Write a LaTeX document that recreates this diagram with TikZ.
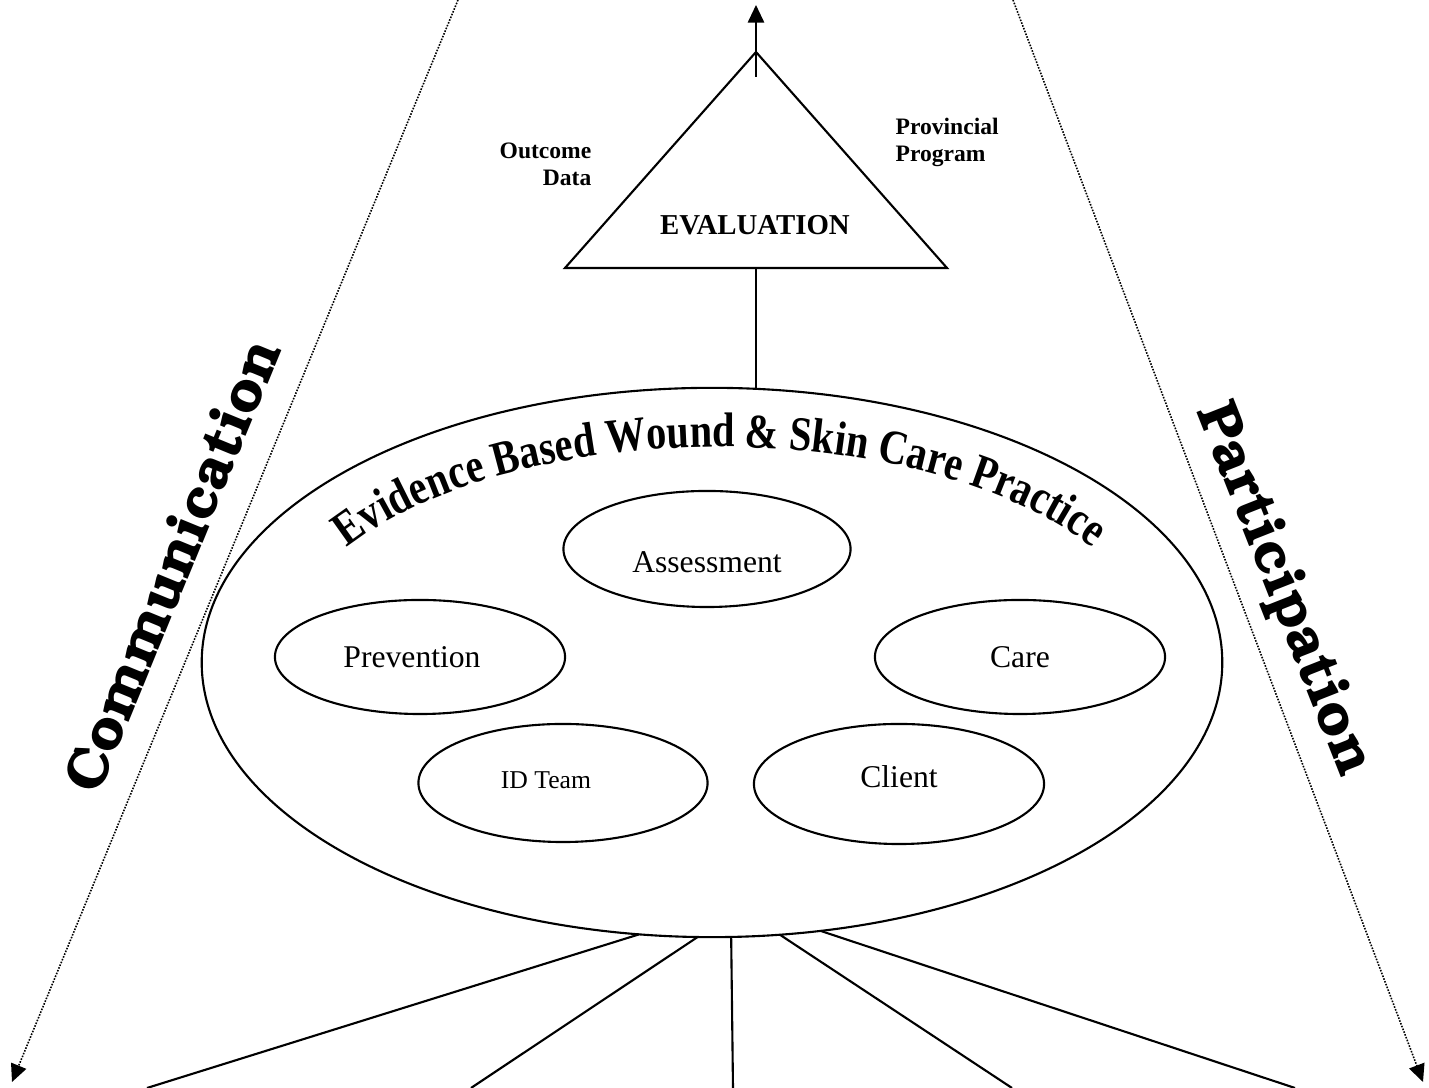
\documentclass[tikz,border=0pt]{standalone}
\usepackage[T1]{fontenc}
\usepackage{fontspec}
\setmainfont{Liberation Serif}
\newfontfamily\archfont[FakeStretch=0.83]{Liberation Serif}
\newcommand\bookfont{\fontencoding{T1}\fontfamily{pbk}\fontseries{b}\fontshape{n}\selectfont}
\usetikzlibrary{shapes.geometric, arrows.meta, decorations.text}

\begin{document}
\begin{tikzpicture}[x=0.01cm, y=0.01cm,
    wire/.style={line width=0.6pt},
    oval/.style={draw, ellipse, wire, inner sep=0pt, outer sep=0pt, minimum width=2.9cm, minimum height=1.14cm},
    ovaltext/.style={inner sep=0pt, font=\fontsize{9}{10.8}\selectfont},
    tip/.style={-{Triangle[length=5pt, width=4.6pt]}},
    dots/.style={line width=0.45pt, dash pattern=on 0.45pt off 0.4pt},
    smallbold/.style={inner sep=0pt, font=\bfseries\fontsize{6.7}{7.7}\selectfont},
    heavy/.style={inner sep=0pt, font=\bookfont\fontsize{16.5}{19}\selectfont}]
    \useasboundingbox (0,0) rectangle (1429,1088);

    % Elipse principal
    \node[oval, minimum width=10.2cm, minimum height=5.49cm] (practice) at (712,425.5) {};
    \path[decorate, decoration={text along path, text align=center,
        text={|\archfont\bfseries\fontsize{13.8}{16}\selectfont|Evidence Based Wound {\&} Skin Care Practice}}]
        (720,426) ++(155:440 and 215) arc[start angle=155, end angle=25, x radius=440, y radius=215];

    % Elipses internas
    \node[oval, minimum width=2.87cm, minimum height=1.16cm] (assess) at (707,539) {};
    \node[ovaltext] (tassess) at ([yshift=-0.13cm]assess.center) {Assessment};
    \node[oval] (prev) at (420,431) {};
    \node[ovaltext] (tprev) at ([xshift=-0.08cm]prev.center) {Prevention};
    \node[oval] (care) at (1020,431) {};
    \node[ovaltext] (tcare) at (care.center) {Care};
    \node[oval, minimum width=2.89cm, minimum height=1.18cm] (team) at (563,305) {};
    \node[ovaltext, font=\fontsize{7.3}{8.8}\selectfont] (tteam) at ([xshift=-0.17cm, yshift=0.03cm]team.center) {ID Team};
    \node[oval, minimum width=2.9cm, minimum height=1.2cm] (client) at (899,304) {};
    \node[ovaltext] (tclient) at ([yshift=0.07cm]client.center) {Client};

    % Triangulo de avaliacao
    \coordinate (apex) at (756,1036);
    \coordinate (baseL) at (565,820);
    \coordinate (baseR) at (947,820);
    \coordinate (basemid) at (756,820);
    \draw[wire] (apex) -- (baseL) -- (baseR) -- cycle;
    \node[inner sep=0pt, font=\bfseries\fontsize{8.2}{9.8}\selectfont] (eval) at (755,863) {EVALUATION};
    \node[smallbold, anchor=east, align=right] (outcome) at (592,924) {Outcome\\Data};
    \node[smallbold, anchor=west, align=left] (prov) at (895,946) {Provincial\\Program};

    % Seta para cima
    \coordinate (stem) at (756,1011);
    \coordinate (up) at (756,1083);
    \draw[wire, tip] (stem) -- (up);
    \draw[wire] (basemid) -- (basemid |- practice.north);

    % Linhas para baixo
    \foreach \a/\x [count=\i] in {255/147, 267/471, 274/733, 284/1012, 292/1295} {
        \coordinate (foot\i) at (\x,0);
        \draw[wire] (practice.\a) -- (foot\i);
    }

    % Setas pontilhadas
    \coordinate (lt) at (458,1088);
    \coordinate (lb) at (12,6);
    \coordinate (rt) at (1013,1088);
    \coordinate (rb) at (1423,6);
    \draw[dots, tip] (lt) -- (lb);
    \draw[dots, tip] (rt) -- (rb);

    % Textos laterais
    \node[heavy, rotate=67.7] (comm) at (172,523) {Communication};
    \node[heavy, rotate=-68.5] (part) at (1283,498) {Participation};
\end{tikzpicture}
\end{document}
